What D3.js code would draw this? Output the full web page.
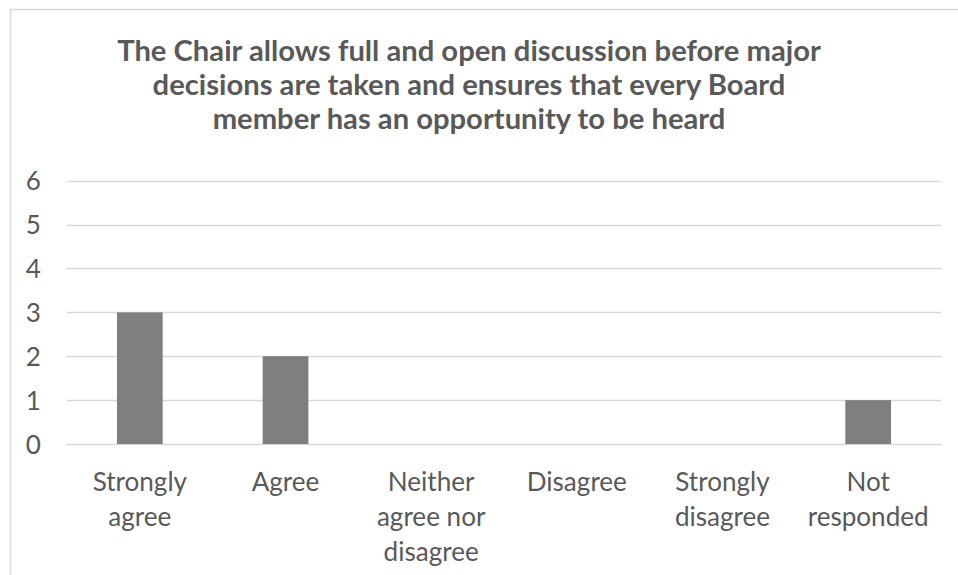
<!DOCTYPE html>
<html><head><meta charset="utf-8">
<script src="https://cdn.jsdelivr.net/npm/d3@7"></script>
<style>body{margin:0;background:#fff}svg{display:block}</style>
</head><body>
<script>
const categories = [["Strongly","agree"],["Agree"],["Neither","agree nor","disagree"],["Disagree"],["Strongly","disagree"],["Not","responded"]];
const values = [3,2,0,0,0,1];
const yTicks = [0,1,2,3,4,5,6];
const titleLines = ["The Chair allows full and open discussion before major","decisions are taken and ensures that every Board","member has an opportunity to be heard"];

const W=958,H=575;
const FONT="Lato, 'Open Sans', sans-serif";
const svg=d3.select("body").append("svg").attr("width",W).attr("height",H);
svg.append("rect").attr("x",10.5).attr("y",9.5).attr("width",1000).attr("height",700)
  .attr("fill","#fff").attr("stroke","#d9d9d9").attr("stroke-width",1.5);

const x=d3.scaleBand().domain(d3.range(categories.length)).range([67,941]).paddingInner(0.686).paddingOuter(0.343);
const y=d3.scaleLinear().domain([0,6]).range([444,180.7]);

function fitSize(text,weight,target){
  const t=svg.append("text").attr("font-family",FONT).attr("font-weight",weight).attr("font-size",100).text(text);
  const w=t.node().getComputedTextLength(); t.remove(); return 100*target/w;
}
const titleSize=fitSize(titleLines[0],"bold",704);
const labSize=fitSize("responded","normal",121);

svg.append("g").selectAll("line").data(yTicks).join("line")
  .attr("x1",67).attr("x2",941).attr("y1",d=>Math.round(y(d))+0.5).attr("y2",d=>Math.round(y(d))+0.5)
  .attr("stroke","#d9d9d9").attr("stroke-width",1.5);

const ya=svg.append("g").attr("transform","translate(41,0)")
  .call(d3.axisLeft(y).tickValues(yTicks).tickFormat(d3.format("d")).tickSize(0).tickPadding(0));
ya.select(".domain").remove();
ya.selectAll("text").attr("font-family",FONT).attr("font-size",labSize).attr("fill","#595959").attr("dy","0.35em");

svg.append("g").selectAll("rect").data(values).join("rect")
  .attr("x",(d,i)=>x(i)).attr("width",x.bandwidth())
  .attr("y",d=>y(d)).attr("height",d=>y(0)-y(d)).attr("fill","#7f7f7f");

const xl=svg.append("g").selectAll("text").data(categories).join("text")
  .attr("x",(d,i)=>x(i)+x.bandwidth()/2).attr("text-anchor","middle")
  .attr("font-family",FONT).attr("font-size",labSize).attr("fill","#595959");
xl.each(function(lines){
  d3.select(this).selectAll("tspan").data(lines).join("tspan")
    .attr("x",d3.select(this).attr("x")).attr("y",(d,j)=>491+j*35).text(d=>d);
});

svg.append("g").selectAll("text").data(titleLines).join("text")
  .attr("x",469).attr("y",(d,i)=>61+i*34).attr("text-anchor","middle")
  .attr("font-family",FONT).attr("font-weight","bold").attr("font-size",titleSize)
  .attr("fill","#595959").text(d=>d);
</script>
</body></html>
